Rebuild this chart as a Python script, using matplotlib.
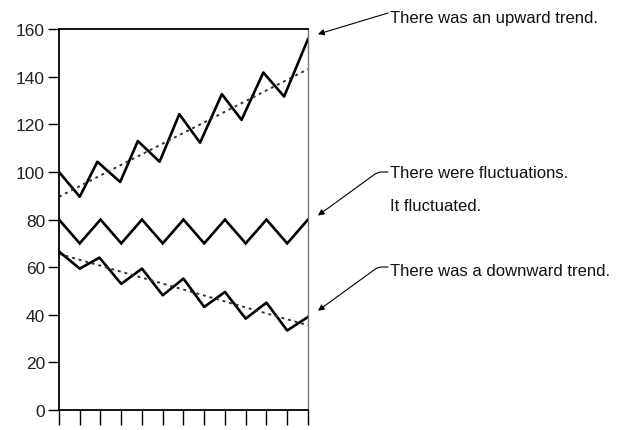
"""
    Trends: upward, fluctuating and downward
"""

import matplotlib.pyplot as plt

# pontos (x em intervalos, y em unidades)
up_x = [0, 1, 1.85, 2.95, 3.8, 4.85, 5.8, 6.8, 7.85, 8.8, 9.85, 10.85, 12]
up_y = [100, 89.6, 104.3, 95.8, 113, 104.3, 124.3, 112.3, 132.7, 121.9, 141.8, 131.7, 155.8]
up_trend_x = [0, 12]
up_trend_y = [89.6, 143.2]

fl_x = [0, 1, 2, 3, 4, 5, 6, 7, 8, 9, 10, 11, 12]
fl_y = [80, 70, 80, 70, 80, 70, 80, 70, 80, 70, 80, 70, 80]

down_x = [0, 1, 1.95, 3, 4, 5, 6, 7, 8, 9, 10, 11, 12]
down_y = [66.6, 59.4, 64, 53, 59.4, 48.2, 55.2, 43.3, 49.6, 38.4, 45.1, 33.4, 39.1]
down_trend_x = [0, 12]
down_trend_y = [65.6, 35.6]

y_ticks = [0, 20, 40, 60, 80, 100, 120, 140, 160]
x_ticks = list(range(13))

labels = ["There was an upward trend.",
          "There were fluctuations.\nIt fluctuated.",
          "There was a downward trend."]
label_targets = [157.9, 81.7, 41.7]
FONTE = ['Liberation Sans', 'DejaVu Sans']

fig = plt.figure(figsize=(6.23, 4.31), dpi=100)
ax = fig.add_axes([0.0947, 0.0464, 0.3996, 0.8836])

ax.plot(up_x, up_y, color="black", lw=1.9, solid_joinstyle="round")
ax.plot(up_trend_x, up_trend_y, color="#333333", lw=1.4, ls=(0, (1.5, 2)))
ax.plot(fl_x, fl_y, color="black", lw=1.9, solid_joinstyle="miter")
ax.plot(down_x, down_y, color="black", lw=1.9, solid_joinstyle="round")
ax.plot(down_trend_x, down_trend_y, color="#333333", lw=1.4, ls=(0, (1.5, 2)))

ax.set_xlim(0, 12)
ax.set_ylim(0, 160)
ax.set_yticks(y_ticks)
ax.set_yticklabels([str(t) for t in y_ticks], family=FONTE, fontsize=12.5, color="#222222")
ax.set_xticks(x_ticks)
ax.set_xticklabels([])
ax.tick_params(axis="y", direction="out", length=8, width=1, pad=2)
ax.tick_params(axis="x", direction="out", length=11, width=1)

for lado in ["left", "top", "bottom"]:
    ax.spines[lado].set_linewidth(1.3)
    ax.spines[lado].set_color("black")
ax.spines["right"].set_linewidth(1)
ax.spines["right"].set_color("#777777")

# setas: ponto de partida (pixels da figura) e estilo de ligacao
inicio_seta = [(388, 417), (388, 258), (388, 163)]
ligacao = ["arc3,rad=0",
           "angle,angleA=0,angleB=36,rad=4",
           "angle,angleA=0,angleB=36,rad=4"]
for alvo, inicio, estilo in zip(label_targets, inicio_seta, ligacao):
    ax.annotate("", xy=(12.48, alvo), xycoords="data",
                xytext=inicio, textcoords="figure pixels",
                annotation_clip=False,
                arrowprops={"arrowstyle": "-|>", "color": "black", "lw": 0.8,
                            "mutation_scale": 9, "shrinkA": 0, "shrinkB": 0,
                            "connectionstyle": estilo})

# textos (centro vertical de cada linha, em pixels a partir do topo)
linhas_y = [[18], [173, 207], [272]]
for texto, ys in zip(labels, linhas_y):
    for linha, yy in zip(texto.split("\n"), ys):
        fig.text(390 / 623, 1 - yy / 431, linha, family=FONTE, fontsize=12,
                 ha="left", va="center", color="#111111")

fig.savefig("out.png", dpi=100)
